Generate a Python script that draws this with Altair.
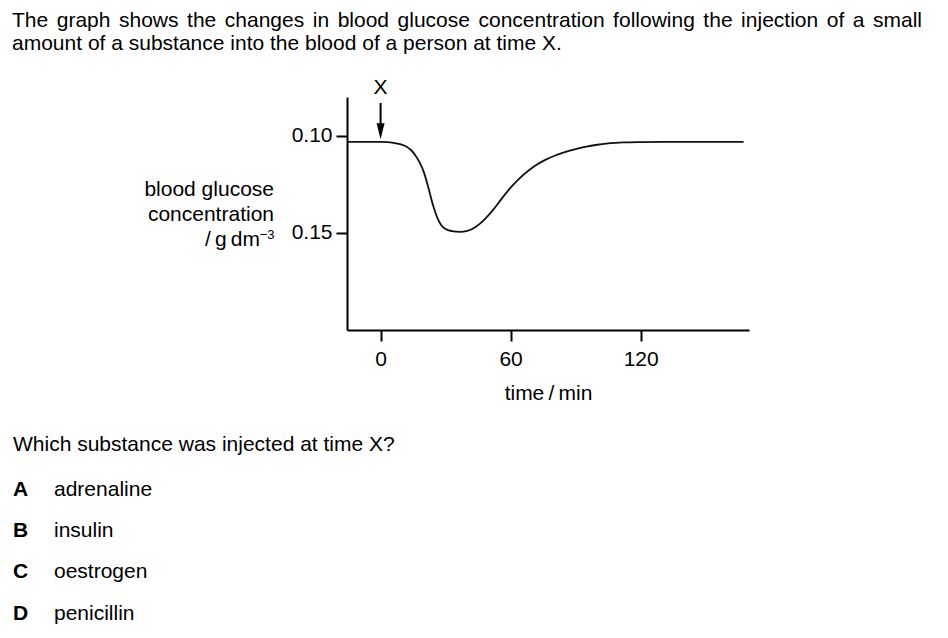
import altair as alt
import pandas as pd

# ---------------- data ----------------
heading_lines = [
    "The graph shows the changes in blood glucose concentration following the injection of a small",
    "amount of a substance into the blood of a person at time X.",
]
question = "Which substance was injected at time X?"
option_letters = ["A", "B", "C", "D"]
option_labels = ["adrenaline", "insulin", "oestrogen", "penicillin"]
y_title_lines = ["blood glucose", "concentration"]
y_unit = "/\u2009g\u2009dm"
y_unit_exp = "\u22123"
x_title = "time\u2009/\u2009min"
x_ticks = [0, 60, 120]
y_ticks = [0.10, 0.15]
injection_label = "X"
injection_time = [0]

time_min = [-15.5, 0, 3, 6, 9, 12, 14, 16, 18, 20, 22, 24, 26, 28, 30, 33, 36.5,
            40, 44, 48, 52, 56, 60, 64, 68, 72, 76, 80, 85, 90, 95, 100, 106, 112,
            120, 130, 167.5]
glucose = [0.1031, 0.1031, 0.1032, 0.1036, 0.1043, 0.1056, 0.1073, 0.1100, 0.1137,
           0.1188, 0.1265, 0.1350, 0.1417, 0.1460, 0.1480, 0.1491, 0.1495,
           0.1490, 0.1468, 0.1430, 0.1380, 0.1322, 0.1267, 0.1220, 0.1181, 0.1149,
           0.1124, 0.1104, 0.1084, 0.1068, 0.1055, 0.1046, 0.1038, 0.1034,
           0.1032, 0.1031, 0.1031]

# arrow (annotation) extent in data units
arrow_top = [0.0831]
arrow_stem_end = [0.0950]
arrow_head = [0.0977]
label_level = [0.07845]

# ---------------- layout ----------------
FONT = "Liberation Sans"
FS = 21
W, H = 402, 233
OX, OY = 347, 97  # page position of plot origin

# Arial / Liberation Sans advance widths (1/1000 em) for justifying the first line
CW = {" ": 278, "a": 556, "b": 556, "c": 500, "d": 556, "e": 556, "f": 278, "g": 556,
      "h": 556, "i": 222, "j": 222, "k": 500, "l": 222, "m": 833, "n": 556, "o": 556,
      "p": 556, "q": 556, "r": 333, "s": 500, "t": 278, "u": 556, "v": 500, "w": 722,
      "x": 500, "y": 500, "z": 500, "T": 611, "X": 667, ".": 278}


def tw(s, size):
    return sum(CW.get(ch, 556) for ch in s) * size / 1000.0


def px(x):
    return x - OX


def py(y):
    return y - OY


x_scale = alt.Scale(domain=[-15.5, 170], nice=False, zero=False)
y_scale = alt.Scale(domain=[0.08, 0.20], reverse=True, nice=False, zero=False)

axis_common = dict(
    domainColor="black", domainWidth=2, tickColor="black", tickWidth=2, tickSize=11,
    labelFontSize=FS, labelColor="black", labelFont=FONT, grid=False,
)

curve_df = pd.DataFrame({"time": time_min, "glucose": glucose})
curve = alt.Chart(curve_df).mark_line(
    color="#111111", strokeWidth=1.8, interpolate="monotone"
).encode(
    x=alt.X("time:Q", scale=x_scale,
            axis=alt.Axis(values=x_ticks, labelPadding=7, title=x_title,
                          titleFontSize=FS, titleFontWeight="normal", titleColor="black",
                          titleFont=FONT, titlePadding=13, **axis_common)),
    y=alt.Y("glucose:Q", scale=y_scale,
            axis=alt.Axis(values=y_ticks, format=".2f", labelPadding=4, title=None,
                          **axis_common)),
)

arrow_df = pd.DataFrame({"time": injection_time, "top": arrow_top,
                         "stem": arrow_stem_end, "head": arrow_head,
                         "lab": label_level, "txt": [injection_label]})
stem = alt.Chart(arrow_df).mark_rule(color="black", strokeWidth=2).encode(
    x=alt.X("time:Q", scale=x_scale), y=alt.Y("top:Q", scale=y_scale), y2="stem:Q")
head = alt.Chart(arrow_df).mark_point(
    shape="M-0.5,-1L0.5,-1L0,1Z", size=256, filled=True, color="black", opacity=1,
    strokeWidth=0).encode(
    x=alt.X("time:Q", scale=x_scale), y=alt.Y("head:Q", scale=y_scale))
xlab = alt.Chart(arrow_df).mark_text(
    font=FONT, fontSize=FS, color="black", align="center", baseline="alphabetic").encode(
    x=alt.X("time:Q", scale=x_scale), y=alt.Y("lab:Q", scale=y_scale), text="txt:N")

layers = [curve, stem, head, xlab]


def text_layer(txt, x, y, align="left", size=FS, weight="normal"):
    return alt.Chart(pd.DataFrame({"t": [txt]})).mark_text(
        font=FONT, fontSize=size, fontWeight=weight, color="black",
        align=align, baseline="alphabetic").encode(
        x=alt.value(x), y=alt.value(y), text="t:N")


# heading: first line justified between x=12 and x=922, second line left-aligned
words = heading_lines[0].split(" ")
left, right = 12, 922
total = sum(tw(w, FS) for w in words)
gap = (right - left - total) / (len(words) - 1)
xw = left
for w in words:
    layers.append(text_layer(w, px(xw), py(27)))
    xw += tw(w, FS) + gap
layers.append(text_layer(heading_lines[1], px(12), py(49.5)))

# y axis title
for i, line in enumerate(y_title_lines):
    layers.append(text_layer(line, px(274), py(196 + 24.8 * i), align="right"))
layers.append(text_layer(y_unit, px(260), py(246), align="right"))
layers.append(text_layer(y_unit_exp, px(274.5), py(239), align="right", size=13))

# question and options
layers.append(text_layer(question, px(13), py(450.5)))
for i, (let, lab) in enumerate(zip(option_letters, option_labels)):
    yb = 496 + 41.2 * i
    layers.append(text_layer(let, px(13), py(yb), weight="bold"))
    layers.append(text_layer(lab, px(54), py(yb)))

chart = alt.layer(*layers).properties(
    width=W, height=H,
    autosize=alt.AutoSizeParams(type="none"),
    padding={"left": OX - 8, "top": OY - 8, "right": 180, "bottom": 295},
).configure(font=FONT).configure_view(strokeWidth=0)

chart.save("out.html", embed_options={"renderer": "svg", "actions": False})
